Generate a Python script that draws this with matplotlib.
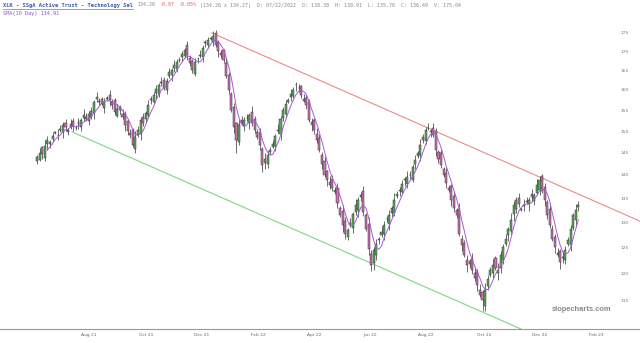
import numpy as np
import pandas as pd
import matplotlib
matplotlib.use("Agg")
import matplotlib.pyplot as plt
from matplotlib.ticker import NullLocator

# XLK two-day candles (first candle 2021-06-07)
opens = [143.2, 143.4, 146.2, 143.7, 146.9, 146.9, 148.1, 149.6, 149.1, 150.2,
         149.7, 151.9, 149.8, 151.0, 152.4, 150.7, 152.0, 151.0, 153.1, 152.8,
         154.1, 153.3, 154.3, 158.2, 156.9, 157.7, 155.5, 157.7, 158.8, 157.0,
         157.4, 153.7, 155.8, 154.0, 154.1, 152.3, 149.5, 150.3, 145.9, 149.0,
         149.2, 153.4, 152.8, 153.8, 157.5, 156.9, 159.2, 159.1, 162.0, 162.6,
         160.0, 163.6, 163.7, 165.6, 165.3, 167.8, 168.5, 168.7, 171.6, 168.2,
         167.4, 164.0, 167.9, 168.8, 168.6, 172.2, 171.7, 173.4, 172.5, 174.9,
         172.5, 169.5, 170.3, 166.8, 163.9, 158.9, 155.8, 151.8, 147.5, 152.7,
         151.1, 153.1, 151.9, 154.6, 152.8, 149.8, 149.7, 145.9, 142.7, 142.4,
         145.2, 146.4, 146.5, 150.0, 149.4, 153.2, 154.0, 157.1, 158.3, 158.5,
         161.2, 160.4, 160.9, 157.7, 158.0, 157.1, 152.2, 152.7, 149.4, 148.4,
         144.5, 143.2, 140.8, 138.5, 139.1, 136.3, 137.2, 132.9, 132.2, 130.2,
         127.0, 129.5, 128.9, 132.0, 132.5, 135.2, 136.5, 131.5, 129.7, 123.7,
         122.0, 123.4, 126.3, 127.3, 127.5, 130.7, 129.7, 131.9, 131.9, 135.4,
         136.6, 136.3, 139.2, 138.1, 139.9, 138.9, 142.5, 144.2, 144.5, 148.0,
         147.6, 150.7, 149.7, 150.7, 149.9, 145.1, 144.8, 141.4, 140.4, 137.1,
         137.5, 135.5, 132.5, 132.7, 126.6, 125.8, 122.4, 122.3, 122.6, 120.1,
         120.2, 116.9, 116.4, 114.0, 117.6, 119.6, 120.1, 122.8, 120.1, 121.0,
         122.4, 125.7, 127.3, 128.1, 131.7, 132.7, 135.1, 132.7, 133.3, 134.4,
         133.7, 135.9, 134.3, 136.1, 136.8, 139.7, 137.3, 134.2, 132.7, 128.6,
         126.9, 123.9, 124.2, 122.9, 122.5, 125.7, 125.4, 128.9, 130.4, 133.1]
highs = [144.5, 146.0, 146.6, 147.8, 148.8, 148.0, 149.8, 150.0, 150.4, 151.4,
         152.1, 152.9, 150.7, 152.9, 153.2, 151.4, 153.0, 153.1, 155.2, 154.2,
         154.7, 155.8, 157.4, 159.5, 158.1, 158.3, 158.0, 158.4, 160.1, 157.8,
         158.0, 156.4, 156.2, 155.3, 154.9, 152.9, 150.5, 150.7, 149.9, 151.1,
         153.3, 154.4, 154.7, 157.6, 158.6, 159.4, 161.2, 161.7, 163.3, 163.4,
         163.0, 165.6, 165.6, 167.7, 167.9, 168.4, 170.2, 170.8, 172.9, 169.0,
         168.0, 168.2, 168.4, 170.4, 171.8, 173.2, 174.0, 174.0, 175.5, 175.7,
         173.1, 170.5, 170.7, 168.1, 164.7, 159.5, 156.8, 152.2, 152.8, 153.5,
         153.3, 154.1, 154.3, 155.9, 153.6, 150.4, 150.7, 146.3, 144.8, 145.3,
         146.2, 148.0, 149.2, 151.6, 153.6, 155.7, 157.4, 157.9, 160.3, 160.8,
         161.9, 161.5, 161.3, 159.0, 158.8, 157.7, 153.2, 153.1, 150.7, 149.2,
         145.1, 144.2, 141.2, 139.8, 139.9, 137.4, 138.2, 133.3, 133.5, 131.0,
         128.9, 130.8, 132.0, 134.9, 135.3, 136.3, 137.5, 131.9, 131.0, 124.5,
         125.1, 126.6, 126.9, 129.3, 130.3, 131.3, 132.5, 133.4, 136.0, 136.6,
         137.4, 139.0, 139.6, 140.8, 140.8, 142.4, 144.4, 145.4, 148.1, 149.3,
         150.9, 151.8, 150.4, 152.0, 150.7, 145.7, 145.8, 141.8, 141.7, 137.9,
         138.1, 136.5, 132.9, 134.0, 127.4, 126.4, 123.4, 122.7, 123.9, 120.9,
         120.8, 117.9, 116.8, 118.2, 119.6, 121.2, 122.6, 123.2, 121.9, 124.3,
         125.6, 127.5, 129.0, 131.8, 134.4, 135.3, 136.1, 133.1, 134.9, 135.2,
         135.3, 136.9, 136.1, 139.2, 139.8, 140.3, 138.3, 134.6, 134.0, 129.4,
         127.5, 124.9, 124.6, 124.3, 125.3, 126.9, 129.5, 131.9, 133.7, 134.4]
lows = [142.5, 143.0, 143.5, 143.2, 145.5, 146.0, 147.4, 149.2, 147.9, 149.7,
        148.3, 150.0, 149.1, 150.6, 150.1, 150.2, 150.5, 150.1, 152.4, 152.4,
        151.4, 152.8, 152.9, 156.9, 156.2, 156.2, 154.4, 157.2, 156.1, 155.3,
        153.9, 153.3, 154.0, 152.9, 150.1, 149.1, 148.4, 146.4, 144.8, 148.5,
        147.8, 151.1, 152.1, 153.4, 156.4, 156.4, 157.8, 158.2, 161.1, 160.1,
        158.9, 163.1, 162.3, 164.7, 164.6, 167.3, 167.4, 168.2, 167.7, 166.1,
        164.4, 163.6, 166.8, 168.3, 167.2, 171.3, 171.0, 173.0, 171.4, 171.2,
        168.6, 168.2, 167.0, 163.1, 158.9, 154.6, 149.6, 144.8, 146.8, 151.6,
        150.0, 152.5, 150.5, 151.1, 149.6, 148.1, 145.7, 140.6, 141.3, 141.5,
        144.5, 146.0, 145.4, 149.5, 148.0, 152.3, 153.3, 156.7, 157.2, 158.0,
        159.8, 159.5, 158.1, 156.9, 155.2, 152.2, 150.1, 149.4, 147.3, 145.2,
        141.4, 139.5, 137.6, 137.0, 136.5, 135.9, 132.9, 131.0, 128.0, 126.6,
        126.3, 129.1, 127.8, 131.5, 131.1, 134.3, 131.3, 128.1, 123.5, 120.3,
        120.6, 122.5, 125.6, 126.9, 126.4, 130.1, 128.3, 131.0, 131.2, 135.0,
        135.5, 135.8, 137.6, 137.2, 139.2, 138.5, 141.4, 143.7, 143.1, 147.1,
        146.9, 150.3, 148.6, 148.6, 144.2, 142.7, 141.6, 139.6, 137.1, 136.3,
        133.3, 132.1, 130.8, 127.1, 124.3, 123.0, 120.2, 120.9, 119.9, 118.6,
        116.7, 115.5, 113.0, 113.1, 116.9, 119.2, 119.0, 120.5, 118.7, 120.1,
        121.7, 125.3, 126.2, 127.6, 130.3, 131.8, 133.1, 132.2, 132.2, 133.7,
        132.3, 134.3, 133.6, 135.7, 135.7, 136.0, 133.3, 130.6, 128.8, 126.1,
        123.9, 123.0, 120.7, 122.0, 121.8, 125.3, 124.3, 128.4, 129.0, 132.2]
closes = [143.9, 145.0, 144.6, 146.5, 148.0, 147.4, 148.8, 149.6, 149.0, 150.6,
          151.5, 150.9, 150.3, 151.6, 151.2, 150.8, 151.9, 152.7, 153.9, 153.4,
          152.5, 154.8, 157.0, 157.8, 157.3, 156.6, 157.0, 158.0, 157.5, 156.2,
          154.6, 155.4, 155.1, 153.4, 151.5, 150.0, 149.1, 146.8, 148.6, 150.3,
          152.7, 152.0, 154.3, 156.3, 157.8, 158.8, 160.2, 161.3, 161.8, 160.5,
          162.4, 164.6, 165.2, 166.4, 167.1, 167.7, 169.2, 170.4, 169.1, 167.0,
          165.1, 167.2, 168.0, 169.1, 171.0, 172.6, 173.0, 173.6, 174.2, 171.7,
          170.0, 169.1, 167.7, 163.5, 160.0, 155.1, 151.0, 148.0, 151.5, 152.0,
          152.7, 153.0, 153.9, 152.0, 150.3, 148.5, 146.8, 142.3, 143.5, 144.5,
          145.6, 147.0, 148.8, 150.3, 152.8, 155.1, 156.4, 157.5, 159.0, 160.0,
          161.3, 160.5, 158.8, 157.3, 156.3, 152.7, 151.5, 150.3, 148.0, 145.6,
          142.5, 140.0, 139.0, 137.9, 137.2, 136.8, 134.0, 131.5, 129.4, 127.5,
          128.3, 129.8, 131.6, 133.6, 134.5, 135.7, 132.0, 128.5, 124.6, 121.6,
          124.5, 125.6, 126.5, 128.0, 129.5, 130.6, 131.5, 133.0, 134.7, 135.8,
          136.8, 138.0, 139.0, 139.5, 140.0, 141.8, 143.4, 145.0, 146.8, 148.5,
          150.3, 150.8, 150.0, 149.1, 145.6, 143.6, 142.3, 140.0, 138.2, 136.8,
          134.7, 133.0, 131.5, 127.5, 125.4, 123.5, 121.6, 121.8, 120.6, 119.0,
          117.8, 116.0, 115.1, 116.9, 118.8, 120.6, 121.6, 121.0, 120.6, 123.5,
          125.0, 126.5, 128.6, 130.5, 133.6, 134.7, 133.8, 132.6, 133.6, 134.2,
          134.7, 135.2, 135.7, 137.9, 139.0, 136.5, 134.7, 131.5, 129.5, 126.5,
          125.0, 123.5, 122.1, 123.0, 124.5, 126.3, 128.5, 131.5, 132.4, 133.6]

first_candle = "2021-06-07"
axis_start, axis_end = "2021-04-26", "2023-03-24"
tick_labels = ["Aug 21", "Oct 21", "Dec 21", "Feb 22", "Apr 22",
               "Jun 22", "Aug 22", "Oct 22", "Dec 22", "Feb 23"]
price_ticks = [115, 120, 125, 130, 135, 140, 145, 150, 155, 160, 165, 170, 175]

# trend lines: (date, price) end points
red_line = [("2021-12-13", 175.0), ("2023-03-24", 129.8)]
green_line = [("2021-07-14", 149.8), ("2022-11-30", 108.6)]

header_title = "XLK - SSgA Active Trust - Technology Sel"
header_rest = [("134.26", "#888888"), ("-0.07", "#e06060"), ("-0.05%", "#e06060"),
               ("(134.26 x 134.27)  D: 07/22/2022  O: 138.38  H: 138.91  L: 135.70  C: 136.49  V: 175.04", "#888888")]
sma_label = "SMA(10 Day) 134.91"

# ---------------------------------------------------------------
axis_days = pd.bdate_range(axis_start, axis_end)
candle_dates = pd.bdate_range(first_candle, periods=len(closes), freq="2B")
x = axis_days.get_indexer(candle_dates)

o = np.array(opens)
c = np.array(closes)
h = np.array(highs)
l = np.array(lows)

fig = plt.figure(figsize=(6.4, 3.43), dpi=100)
ax = fig.add_axes([0, 14 / 343, 1, 329 / 343])

up = c >= o
body_colors = np.where(up, "#5aa85a", "#cc6fae")
ax.vlines(x, l, h, color="#444444", linewidth=0.55, zorder=2)
ax.bar(x, np.maximum(np.abs(c - o), 0.08), bottom=np.minimum(o, c), width=1.6,
       color=body_colors, edgecolor="#333333", linewidth=0.35, zorder=3)

sma = pd.Series(c).rolling(5).mean()
ax.plot(x, sma, color="#a45bd6", linewidth=0.7, zorder=4)

for line, col in [(red_line, "#ec8a8a"), (green_line, "#7ed67e")]:
    lx = axis_days.get_indexer(pd.to_datetime([d for d, _ in line]))
    ax.plot(lx, [p for _, p in line], color=col, linewidth=0.8, zorder=1)

ax.set_yscale("log")
ax.set_ylim(109.9, 184.3)
ax.set_xlim(1.4, 495.6)
ax.yaxis.set_minor_locator(NullLocator())
ax.set_yticks(price_ticks)
ax.set_yticklabels([str(v) for v in price_ticks])
ax.yaxis.tick_right()
ax.tick_params(axis="y", length=0, pad=-14, labelsize=3.2, labelcolor="#777777")

tick_dates = pd.to_datetime(["01 " + t.replace(" ", " 20") for t in tick_labels], format="%d %b %Y")
tick_pos = [int(np.searchsorted(axis_days, d)) for d in tick_dates]
ax.set_xticks(tick_pos)
ax.set_xticklabels(tick_labels)
ax.tick_params(axis="x", length=0, pad=3, labelsize=3.2, labelcolor="#666666")

for side in ["top", "left", "right"]:
    ax.spines[side].set_visible(False)
ax.spines["bottom"].set_color("#999999")
ax.spines["bottom"].set_linewidth(0.8)

ax.text(0.955, 0.058, "slopecharts.com", transform=ax.transAxes, ha="right", va="center",
        fontsize=5.4, fontweight="bold", color="#8a8a8a", family="Liberation Sans")

# header line
fig.canvas.draw()
renderer = fig.canvas.get_renderer()
y_head = 1 - 5 / 343
t = fig.text(3 / 640, y_head, header_title, fontsize=3.9, family="DejaVu Sans Mono",
             fontweight="bold", color="#3a55b0", va="center")
bb = t.get_window_extent(renderer)
fig.add_artist(plt.Line2D([bb.x0 / 640, bb.x1 / 640], [1 - 9 / 343, 1 - 9 / 343],
                          color="#3a55b0", linewidth=0.4))
cursor = bb.x1 + 4
for txt, col in header_rest:
    t = fig.text(cursor / 640, y_head, txt, fontsize=3.6, family="DejaVu Sans Mono",
                 color=col, va="center")
    cursor = t.get_window_extent(renderer).x1 + 4
fig.text(3 / 640, 1 - 13 / 343, sma_label, fontsize=3.8, family="DejaVu Sans Mono",
         color="#8d55cc", va="center")

fig.savefig("out.png", dpi=100)
